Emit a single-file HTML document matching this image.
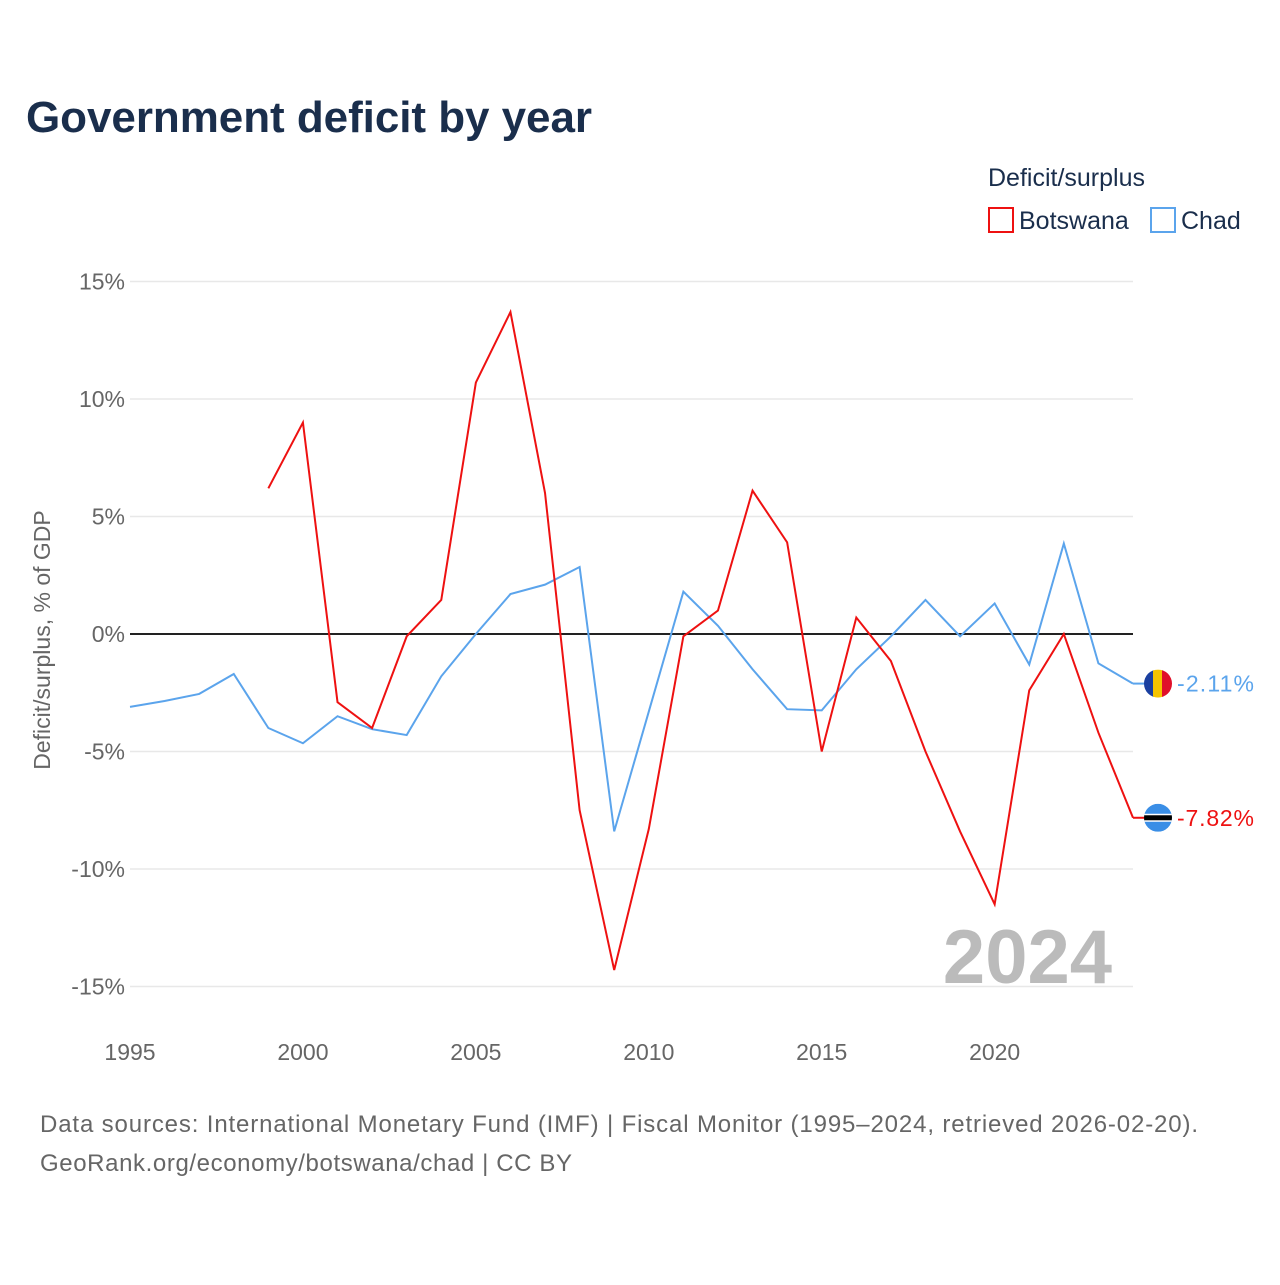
<!DOCTYPE html>
<html><head><meta charset="utf-8"><style>
body{margin:0;background:#fff;font-family:"Liberation Sans",sans-serif}
</style></head><body>
<svg id="c" width="1280" height="1280" xmlns="http://www.w3.org/2000/svg" style="font-family:'Liberation Sans',sans-serif">
<defs><clipPath id="fc1"><circle cx="1158" cy="0" r="14"/></clipPath></defs>
<text x="26" y="132" font-size="44" font-weight="bold" fill="#1a2e4c" textLength="566">Government deficit by year</text>
<text x="988" y="186" font-size="25" fill="#1a2e4c">Deficit/surplus</text>
<g><rect x="989" y="208" width="24" height="24" fill="none" stroke="#ee1111" stroke-width="2"/><text x="1019" y="229" font-size="25" fill="#1a2e4c">Botswana</text></g>
<g><rect x="1151" y="208" width="24" height="24" fill="none" stroke="#5ba4ec" stroke-width="2"/><text x="1181" y="229" font-size="25" fill="#1a2e4c">Chad</text></g>
<text transform="translate(50,640) rotate(-90)" text-anchor="middle" font-size="23" fill="#666">Deficit/surplus, % of GDP</text>
<g id="grid"></g>
<text x="1112" y="983" text-anchor="end" font-size="76" font-weight="bold" fill="#bbb">2024</text>
<g id="series"></g>
<text x="40" y="1132" font-size="24" fill="#666" textLength="1158">Data sources: International Monetary Fund (IMF) | Fiscal Monitor (1995–2024, retrieved 2026-02-20).</text>
<text x="40" y="1171" font-size="24" fill="#666" textLength="532">GeoRank.org/economy/botswana/chad | CC BY</text>
</svg>
<script>
const years=[1995,1996,1997,1998,1999,2000,2001,2002,2003,2004,2005,2006,2007,2008,2009,2010,2011,2012,2013,2014,2015,2016,2017,2018,2019,2020,2021,2022,2023,2024];
const botswana=[null,null,null,null,6.2,9.0,-2.9,-4.0,-0.1,1.45,10.7,13.7,6.0,-7.5,-14.3,-8.3,-0.1,1.0,6.1,3.9,-5.0,0.7,-1.15,-5.0,-8.4,-11.5,-2.4,0.0,-4.2,-7.82];
const chad=[-3.1,-2.85,-2.55,-1.7,-4.0,-4.65,-3.5,-4.05,-4.3,-1.8,0.0,1.7,2.1,2.85,-8.4,-3.3,1.8,0.35,-1.5,-3.2,-3.25,-1.5,-0.1,1.45,-0.1,1.3,-1.3,3.85,-1.25,-2.11];
const yTicks=[15,10,5,0,-5,-10,-15];
const xTicks=[1995,2000,2005,2010,2015,2020];
const NS='http://www.w3.org/2000/svg';
const X=y=>130+(y-1995)*(1133-130)/29;
const Y=v=>634-v*23.5;
function mk(t,a,p){const e=document.createElementNS(NS,t);for(const k in a)e.setAttribute(k,a[k]);p.appendChild(e);return e;}
const g=document.getElementById('grid'),s=document.getElementById('series');
yTicks.forEach(v=>{
 const l=mk('line',{x1:130,x2:1133,y1:Y(v),y2:Y(v),stroke:v===0?'#222':'#e8e8e8','stroke-width':v===0?2:1.5},g);
 
 
 const t=mk('text',{x:125,y:Y(v)+8,'text-anchor':'end','font-size':23,fill:'#666'},g);t.textContent=v+'%';
 
 
});
xTicks.forEach(v=>{
 const t=mk('text',{x:X(v),y:1060,'text-anchor':'middle','font-size':23,fill:'#666'},g);t.textContent=v;
 
 
});
function line(data,col,name){
 let d='';data.forEach((v,i)=>{if(v===null)return;d+=(d?'L':'M')+X(years[i])+','+Y(v);});
 const p=mk('path',{d:d,fill:'none',stroke:col,'stroke-width':2},s);
 
 
 const last=data[data.length-1],yy=Y(last);
 mk('line',{x1:1133,x2:1145,y1:yy,y2:yy,stroke:col,'stroke-width':2},s);
 const fg=mk('g',{transform:`translate(0,${yy})`},s);
 
 
 const cg=mk('g',{'clip-path':'url(#fc1)'},fg);
 if(name==='chad'){
  mk('rect',{x:1144,y:-14,width:10,height:28,fill:'#1a3fa0'},cg);
  mk('rect',{x:1153,y:-14,width:10,height:28,fill:'#f5c400'},cg);
  mk('rect',{x:1162,y:-14,width:10,height:28,fill:'#e0102a'},cg);
 } else {
  mk('rect',{x:1144,y:-14,width:28,height:28,fill:'#3a8ee6'},cg);
  mk('rect',{x:1144,y:-4,width:28,height:8,fill:'#fff'},cg);
  mk('rect',{x:1144,y:-2.5,width:28,height:5,fill:'#000'},cg);
 }
 const t=mk('text',{x:1177,y:yy+8,'font-size':23,fill:col,textLength:77},s);t.textContent=last.toFixed(2)+'%';
 
 
}
line(chad,'#5ba4ec','chad');
line(botswana,'#ee1111','botswana');
</script>
</body></html>
